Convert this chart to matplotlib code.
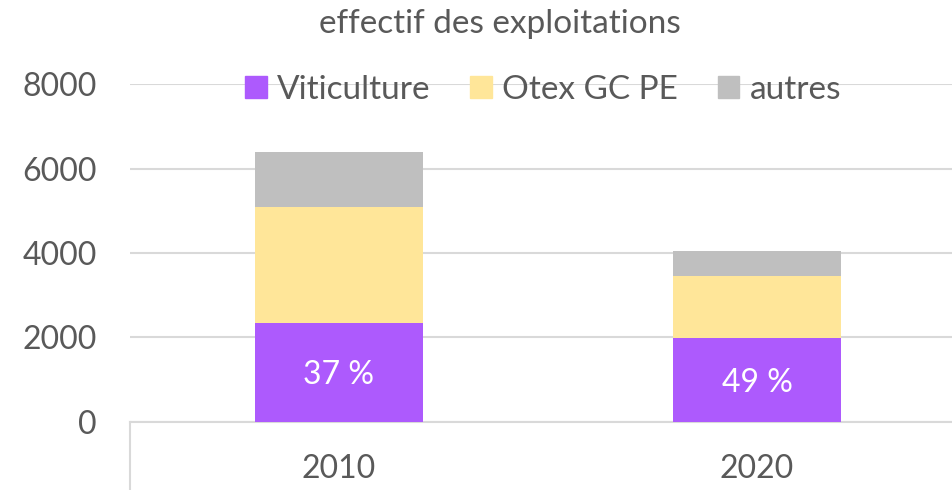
import matplotlib.pyplot as plt
from matplotlib.patches import Patch
from matplotlib.lines import Line2D

plt.rcParams['font.family'] = ['Lato', 'DejaVu Sans']

years = ["2010", "2020"]
viticulture = [2350, 1980]
otex = [2750, 1470]
autres = [1290, 605]
share_labels = ["37 %", "49 %"]

col_viti = "#ad5afd"
col_otex = "#ffe699"
col_autres = "#bfbfbf"
txt = "#595959"
grid = "#d9d9d9"

fig = plt.figure(figsize=(9.53, 4.90), dpi=100)
ax = fig.add_axes([130 / 953, 68.3 / 490, 1 - 130 / 953, (405.7 - 68.3) / 490])

x = range(len(years))
w = 0.40
bottom2 = [a + b for a, b in zip(viticulture, otex)]
ax.bar(x, viticulture, w, color=col_viti, zorder=3)
ax.bar(x, otex, w, bottom=viticulture, color=col_otex, zorder=3)
ax.bar(x, autres, w, bottom=bottom2, color=col_autres, zorder=3)

for i, lab in enumerate(share_labels):
    ax.text(i, viticulture[i] / 2, lab, ha="center", va="center_baseline",
            color="white", fontsize=23, zorder=4)

ax.set_ylim(0, 8000)
ax.set_xlim(-0.5, 1.469)
ax.set_yticks([0, 2000, 4000, 6000, 8000])
ax.set_xticks(list(x))
ax.set_xticklabels(years)
ax.tick_params(axis="y", length=0, pad=24, labelsize=23, labelcolor=txt)
ax.tick_params(axis="x", length=0, pad=23, labelsize=23, labelcolor=txt)
ax.grid(axis="y", color=grid, linewidth=1.5, zorder=0)
for s in ["top", "right", "left"]:
    ax.spines[s].set_visible(False)
ax.spines["bottom"].set_color(grid)
ax.spines["bottom"].set_linewidth(1.5)

# category divider below the axis
ax.add_line(Line2D([0, 0], [0, -0.2], transform=ax.transAxes,
                   color=grid, linewidth=1.5, clip_on=False))

fig.text(500 / 953, 1 - 24 / 490, "effectif des exploitations",
         ha="center", va="center", fontsize=24, color=txt)

handles = [Patch(color=col_viti, label="Viticulture"),
           Patch(color=col_otex, label="Otex GC PE"),
           Patch(color=col_autres, label="autres")]
leg = fig.legend(handles=handles, loc="center", bbox_to_anchor=(543 / 953, 1 - 90 / 490),
                 ncol=3, frameon=False, fontsize=24, handlelength=0.65, handleheight=0.65,
                 handletextpad=0.3, columnspacing=1.2)
for t in leg.get_texts():
    t.set_color(txt)

fig.savefig("out.png", dpi=100, facecolor="white")
